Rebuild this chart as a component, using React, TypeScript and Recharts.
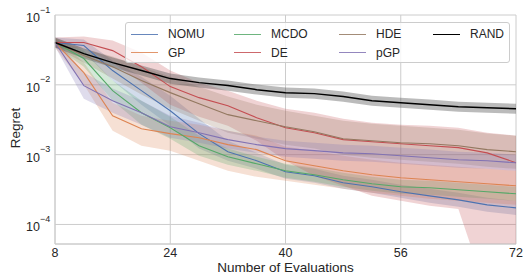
import {
  Area,
  CartesianGrid,
  ComposedChart,
  Label,
  Line,
  XAxis,
  YAxis,
} from "recharts";

const evals = [8, 12, 16, 20, 24, 28, 32, 36, 40, 44, 48, 52, 56, 60, 64, 68, 72];

const nomuMean = [0.0403, 0.0365, 0.016, 0.00825, 0.00426, 0.002, 0.0011, 0.000818, 0.000569, 0.000498, 0.000395, 0.000346, 0.000294, 0.000257, 0.000225, 0.000191, 0.000173];
const nomuHi = [0.0476, 0.0445, 0.0222, 0.0131, 0.007, 0.00327, 0.00158, 0.00106, 0.000716, 0.000627, 0.000498, 0.000436, 0.00037, 0.000324, 0.000284, 0.000241, 0.000218];
const nomuLo = [0.0342, 0.029, 0.01149, 0.0052, 0.0026, 0.00122, 0.000818, 0.000627, 0.000451, 0.000395, 0.000324, 0.000284, 0.000241, 0.000204, 0.000179, 0.000152, 0.000137];

const gpMean = [0.0403, 0.01496, 0.00361, 0.00235, 0.002, 0.00175, 0.00139, 0.00118, 0.000818, 0.000693, 0.000587, 0.000515, 0.000466, 0.000436, 0.000408, 0.000382, 0.000358];
const gpHi = [0.0476, 0.0208, 0.00555, 0.00361, 0.00306, 0.00269, 0.0022, 0.00187, 0.0013, 0.00114, 0.000964, 0.000845, 0.000765, 0.000716, 0.00067, 0.000627, 0.000587];
const gpLo = [0.0342, 0.0101, 0.0022, 0.00134, 0.00114, 0.000818, 0.000587, 0.000482, 0.000422, 0.00037, 0.000324, 0.000284, 0.000257, 0.000233, 0.000218, 0.000204, 0.000191];

const mcdoMean = [0.0403, 0.0238, 0.00825, 0.00399, 0.00243, 0.00134, 0.000933, 0.000741, 0.000587, 0.000515, 0.000436, 0.000382, 0.000346, 0.000335, 0.000314, 0.000294, 0.000275];
const mcdoHi = [0.046, 0.0309, 0.01149, 0.00593, 0.0035, 0.00187, 0.00122, 0.000933, 0.000741, 0.000649, 0.00055, 0.000482, 0.000436, 0.000422, 0.000395, 0.00037, 0.000346];
const mcdoLo = [0.0353, 0.0182, 0.00593, 0.00269, 0.00169, 0.000964, 0.000716, 0.000587, 0.000466, 0.000408, 0.000346, 0.000303, 0.000275, 0.000266, 0.000249, 0.000233, 0.000218];

const deMean = [0.0403, 0.0403, 0.0309, 0.0182, 0.00942, 0.00655, 0.00503, 0.00338, 0.00243, 0.00206, 0.00164, 0.00153, 0.00143, 0.00134, 0.00126, 0.00106, 0.000765];
const deHi = [0.0476, 0.0491, 0.0431, 0.029, 0.016, 0.01075, 0.00825, 0.00593, 0.00455, 0.00399, 0.00327, 0.00287, 0.00269, 0.0026, 0.00243, 0.00206, 0.00187];
const deLo = [0.0342, 0.0331, 0.0208, 0.01075, 0.0052, 0.0035, 0.0026, 0.00158, 0.000818, 0.000498, 0.000358, 0.000257, 0.000218, 0.000185, 0.000167, 0.00001, 0.00001];

const hdeMean = [0.0403, 0.0262, 0.0182, 0.01149, 0.00773, 0.00537, 0.00374, 0.00306, 0.00251, 0.00213, 0.00169, 0.00158, 0.00148, 0.00143, 0.00134, 0.00118, 0.0011];
const hdeHi = [0.0476, 0.0331, 0.0254, 0.0182, 0.0131, 0.00942, 0.00678, 0.0052, 0.00426, 0.00361, 0.00306, 0.00277, 0.0026, 0.00243, 0.00228, 0.002, 0.00187];
const hdeLo = [0.0342, 0.0208, 0.01227, 0.00724, 0.00455, 0.00306, 0.00206, 0.00169, 0.00139, 0.00122, 0.000997, 0.000903, 0.000845, 0.000791, 0.000741, 0.00067, 0.000627];

const pgpMean = [0.0403, 0.00974, 0.00593, 0.00399, 0.00251, 0.00206, 0.00164, 0.00139, 0.00122, 0.00114, 0.00106, 0.00103, 0.000964, 0.000903, 0.000845, 0.000818, 0.000765];
const pgpHi = [0.046, 0.01496, 0.00883, 0.00593, 0.00361, 0.00287, 0.0022, 0.00181, 0.00158, 0.00148, 0.00139, 0.00134, 0.00126, 0.00118, 0.0011, 0.00106, 0.000997];
const pgpLo = [0.0353, 0.00634, 0.00399, 0.00269, 0.00175, 0.00148, 0.00122, 0.00106, 0.000933, 0.000873, 0.000818, 0.000791, 0.000741, 0.000693, 0.000649, 0.000627, 0.000587];

const randMean = [0.0403, 0.028, 0.0208, 0.016, 0.01227, 0.01075, 0.00974, 0.00853, 0.00773, 0.00748, 0.00678, 0.00593, 0.00555, 0.0052, 0.00487, 0.00471, 0.00455];
const randHi = [0.0476, 0.0331, 0.0246, 0.0189, 0.01447, 0.01268, 0.01149, 0.0101, 0.00912, 0.00883, 0.008, 0.007, 0.00655, 0.00614, 0.00574, 0.00555, 0.00537];
const randLo = [0.0342, 0.0238, 0.01765, 0.01355, 0.0104, 0.00912, 0.00825, 0.00724, 0.00655, 0.00634, 0.00574, 0.00503, 0.00471, 0.00441, 0.00413, 0.00399, 0.00386];

const xTicks = [8, 24, 40, 56, 72];
const yTicks = [1e-4, 1e-3, 1e-2, 1e-1];

const series = [
  { key: "nomu", name: "NOMU", color: "#4c72b0", band: "#4c72b0", mean: nomuMean, lo: nomuLo, hi: nomuHi },
  { key: "gp", name: "GP", color: "#dd8452", band: "#dd8452", mean: gpMean, lo: gpLo, hi: gpHi },
  { key: "mcdo", name: "MCDO", color: "#55a868", band: "#55a868", mean: mcdoMean, lo: mcdoLo, hi: mcdoHi },
  { key: "de", name: "DE", color: "#c44e52", band: "#c44e52", mean: deMean, lo: deLo, hi: deHi },
  { key: "hde", name: "HDE", color: "#937860", band: "#937860", mean: hdeMean, lo: hdeLo, hi: hdeHi },
  { key: "pgp", name: "pGP", color: "#8172b3", band: "#8172b3", mean: pgpMean, lo: pgpLo, hi: pgpHi },
  { key: "rand", name: "RAND", color: "#000000", band: "#555555", mean: randMean, lo: randLo, hi: randHi },
];

// legend is column-major, like matplotlib's ncol=4
const legendOrder = ["nomu", "mcdo", "hde", "rand", "gp", "de", "pgp"];

const data = evals.map((x, i) => {
  const row: any = { x };
  series.forEach((s) => {
    row[s.key] = s.mean[i];
    row[s.key + "Band"] = [s.lo[i], s.hi[i]];
  });
  return row;
});

const FONT = "'Liberation Sans', Arial, sans-serif";
const TEXT = "#262626";

const YTick = ({ x, y, payload }: any) => {
  const exp = Math.round(Math.log10(payload.value));
  return (
    <g>
      <text x={x - 15} y={y + 3} textAnchor="end" dominantBaseline="central" fontSize={12.5} fill={TEXT} fontFamily={FONT}>
        10
      </text>
      <text x={x - 15} y={y - 5.5} textAnchor="start" dominantBaseline="central" fontSize={9} fill={TEXT} fontFamily={FONT}>
        {"\u2212" + Math.abs(exp)}
      </text>
    </g>
  );
};

const XTick = ({ x, y, payload }: any) => (
  <text x={x} y={y + 13} textAnchor="middle" fontSize={12.5} fill={TEXT} fontFamily={FONT}>
    {payload.value}
  </text>
);

const LegendBox = () => (
  <div
    style={{
      position: "absolute",
      left: 125,
      top: 22,
      width: 385,
      height: 41,
      boxSizing: "border-box",
      border: "1px solid #cccccc",
      borderRadius: 3,
      background: "rgba(255,255,255,0.8)",
      display: "grid",
      gridTemplateColumns: "103px 105px 94px 80px",
      paddingLeft: 5,
      paddingTop: 2,
      fontFamily: FONT,
      fontSize: 12,
      color: TEXT,
    }}
  >
    {legendOrder.map((k) => {
      const s = series.find((d) => d.key === k)!;
      return (
        <div key={k} style={{ display: "flex", alignItems: "center", height: 18.5 }}>
          <span
            style={{
              display: "inline-block",
              width: 27,
              borderTop: `${k === "rand" ? 1.5 : 1.2}px solid ${s.color}`,
              opacity: k === "rand" ? 1 : 0.85,
              marginRight: 10,
            }}
          />
          <span>{s.name}</span>
        </div>
      );
    })}
  </div>
);

export default function App() {
  return (
    <div style={{ position: "absolute", left: 0, top: 0, width: 525, height: 276, background: "#fff" }}>
      <ComposedChart width={525} height={276} data={data} margin={{ top: 15, right: 9, bottom: 0, left: 0 }}>
        <CartesianGrid stroke="#cccccc" strokeWidth={1} />
        <XAxis
          dataKey="x"
          type="number"
          domain={[8, 72]}
          ticks={xTicks}
          height={32}
          tickSize={0}
          tickMargin={0}
          tickLine={false}
          axisLine={{ stroke: "#cccccc" }}
          tick={<XTick />}
        >
          <Label
            content={() => (
              <text x={285.5} y={272} textAnchor="middle" fontSize={13.5} fill={TEXT} fontFamily={FONT}>
                Number of Evaluations
              </text>
            )}
          />
        </XAxis>
        <YAxis
          scale="log"
          type="number"
          domain={[5.25e-5, 0.1]}
          allowDataOverflow
          ticks={yTicks}
          width={55}
          tickSize={0}
          tickMargin={0}
          tickLine={false}
          axisLine={{ stroke: "#cccccc" }}
          tick={<YTick />}
        >
          <Label
            content={() => (
              <text
                x={15}
                y={128}
                transform="rotate(-90 15 128)"
                textAnchor="middle"
                dominantBaseline="central"
                fontSize={13.5}
                fill={TEXT}
                fontFamily={FONT}
              >
                Regret
              </text>
            )}
          />
        </YAxis>
        {series.map((s) => (
          <Area
            key={s.key + "Band"}
            dataKey={s.key + "Band"}
            type="linear"
            stroke="none"
            fill={s.band}
            fillOpacity={s.key === "rand" ? 0.4 : 0.25}
            isAnimationActive={false}
            legendType="none"
          />
        ))}
        {series.map((s) => (
          <Line
            key={s.key}
            dataKey={s.key}
            name={s.name}
            type="linear"
            stroke={s.color}
            strokeWidth={s.key === "rand" ? 1.5 : 1.1}
            dot={false}
            activeDot={false}
            isAnimationActive={false}
          />
        ))}
      </ComposedChart>
      <LegendBox />
    </div>
  );
}
